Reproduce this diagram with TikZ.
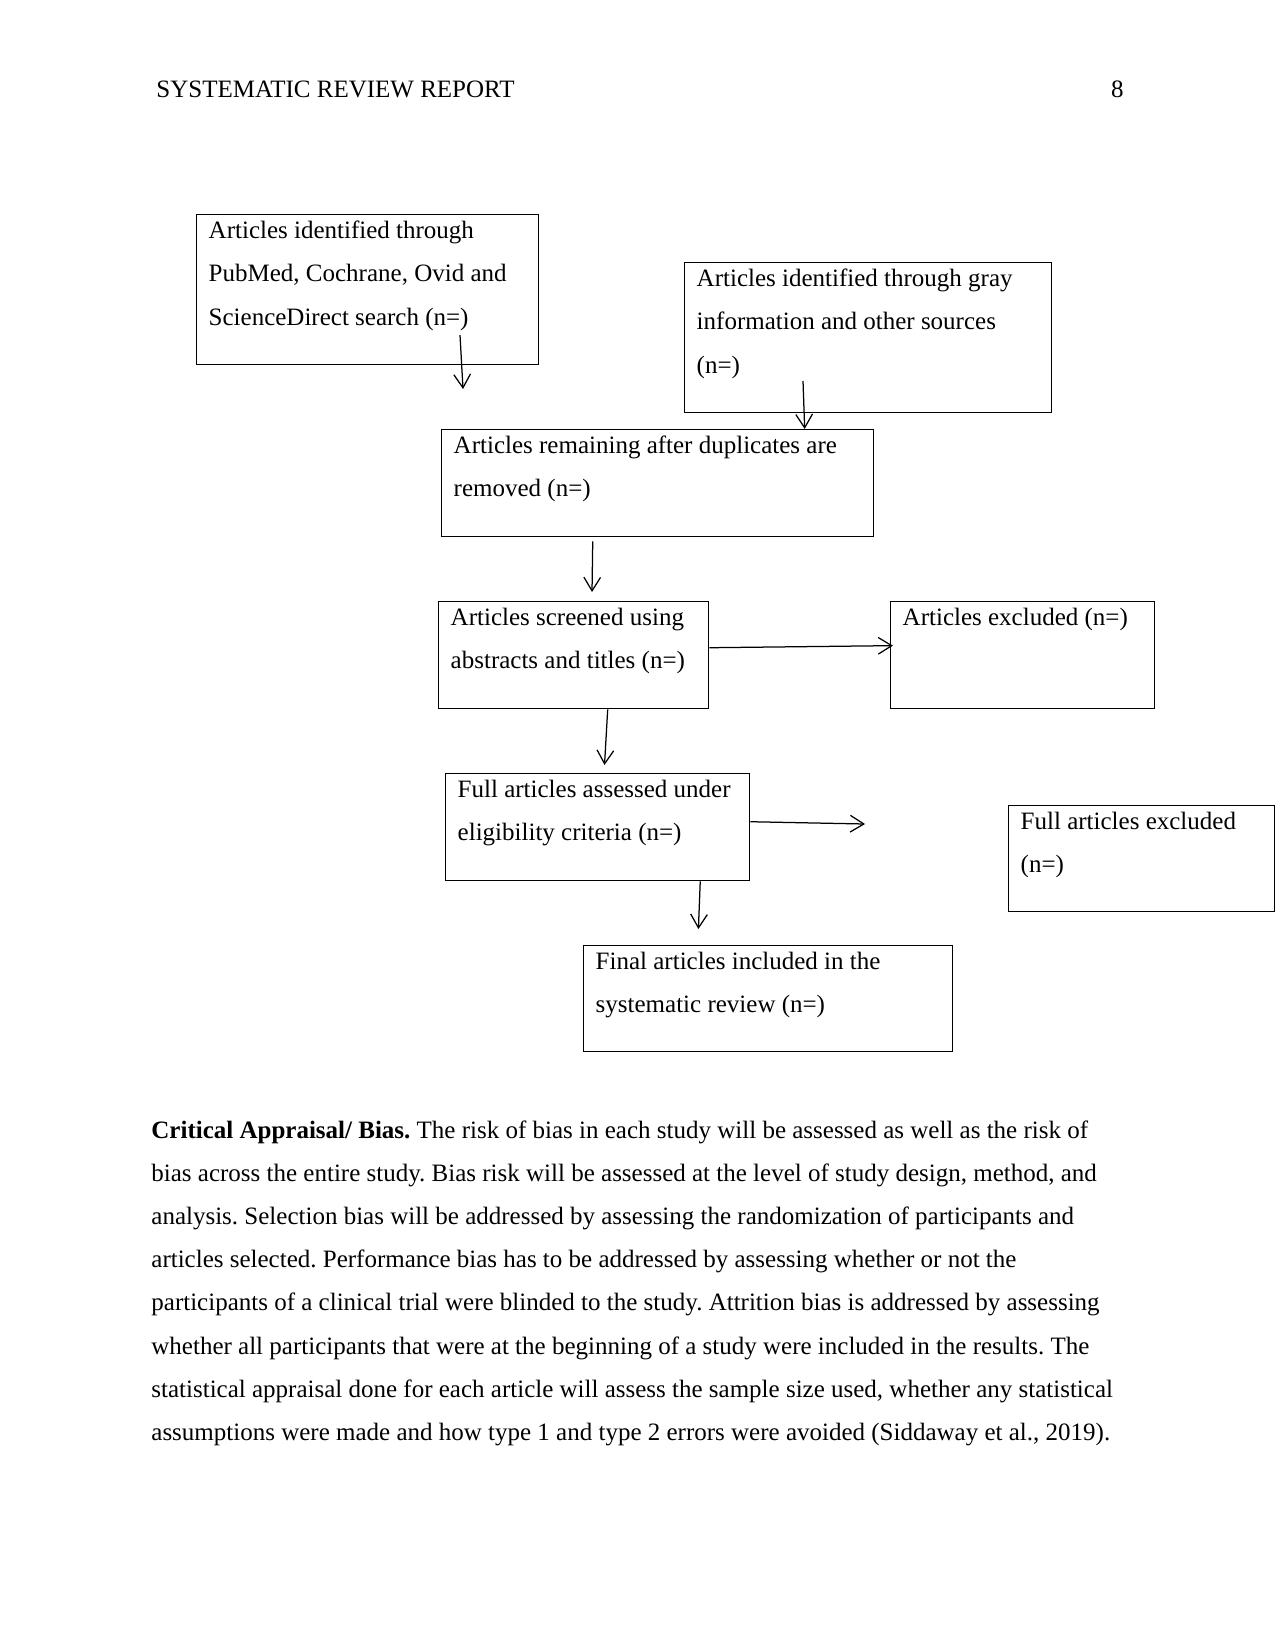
\documentclass[tikz,border=0pt]{standalone}
\usepackage{fontspec}
\setmainfont{Liberation Serif}
\frenchspacing
\usepackage{tikz}
\usetikzlibrary{arrows.meta}
\newcommand{\reportfont}{\fontsize{12pt}{20.74pt}\selectfont}
\tikzset{
  flowbox/.style={draw=black,line width=0.7pt,anchor=north west,align=left,
              inner xsep=5.76pt,inner ysep=0pt,text height=11.52pt,
              font=\reportfont,execute at begin node={\spaceskip=\fontdimen2\font\relax}},
  flow/.style={-{Straight Barb[length=6.5pt,width=8pt]},line width=0.6pt},
  bodytext/.style={font=\reportfont,inner sep=0pt,
              execute at begin node={\spaceskip=\fontdimen2\font\relax}},
  headtext/.style={font=\fontsize{12pt}{14pt}\selectfont,inner sep=0pt}
}
\begin{document}
\begin{tikzpicture}[x=0.48pt,y=-0.48pt]
  \useasboundingbox (0,0) rectangle (1275,1650);
  \node[headtext,anchor=base west] (head) at (156,98) {SYSTEMATIC REVIEW REPORT};
  \node[headtext,anchor=base east] (page) at (1124,98) {8};
  \node[flowbox,text width=152.64pt,text depth=60.48pt] (search) at (196,214)
    {Articles identified through\\PubMed, Cochrane, Ovid and\\ScienceDirect search (n=)};
  \node[flowbox,text width=164.64pt,text depth=60.48pt] (gray) at (684,262)
    {Articles identified through gray\\information and other sources\\(n=)};
  \node[flowbox,text width=195.84pt,text depth=39.84pt] (dedup) at (441,429)
    {Articles remaining after duplicates are\\removed (n=)};
  \node[flowbox,text width=118.08pt,text depth=39.84pt] (screen) at (438,601)
    {Articles screened using\\abstracts and titles (n=)};
  \node[flowbox,text width=115.2pt,text depth=39.84pt] (excl) at (890,601)
    {Articles excluded (n=)};
  \node[flowbox,text width=134.4pt,text depth=39.84pt] (elig) at (445,773)
    {Full articles assessed under\\eligibility criteria (n=)};
  \node[flowbox,text width=116.16pt,text depth=39.36pt] (fullexcl) at (1008,805)
    {Full articles excluded\\(n=)};
  \node[flowbox,text width=165.6pt,text depth=39.36pt] (final) at (583,945)
    {Final articles included in the\\systematic review (n=)};
  \coordinate (s1) at (460,335);
  \coordinate (e1) at (463,389);
  \coordinate (s2) at (803,381);
  \coordinate (e3) at (592,592);
  \coordinate (e5) at (604.5,765);
  \coordinate (e6) at (865,824);
  \coordinate (e7) at (698.4,929);
  \draw[flow] (s1) -- (e1);
  \draw[flow] (s2) -- ([xshift=0.8pt]dedup.north -| s2);
  \draw[flow] ([xshift=-31.2pt,yshift=-1.9pt]dedup.south) -- (e3);
  \draw[flow] ([yshift=3.6pt]screen.east) -- ([yshift=4.6pt,xshift=1.4pt]excl.west);
  \draw[flow] ([xshift=16.3pt]screen.south) -- (e5);
  \draw[flow] ([yshift=2.64pt]elig.east) -- (e6);
  \draw[flow] ([xshift=49.2pt]elig.south) -- (e7);
  \node[bodytext,anchor=base west,text width=480pt,align=left] (para) at (151,1138)
    {\textbf{Critical Appraisal/ Bias.} The risk of bias in each study will be assessed as well as the risk of\\
     bias across the entire study. Bias risk will be assessed at the level of study design, method, and\\
     analysis. Selection bias will be addressed by assessing the randomization of participants and\\
     articles selected. Performance bias has to be addressed by assessing whether or not the\\
     participants of a clinical trial were blinded to the study. Attrition bias is addressed by assessing\\
     whether all participants that were at the beginning of a study were included in the results. The\\
     statistical appraisal done for each article will assess the sample size used, whether any statistical\\
     assumptions were made and how type 1 and type 2 errors were avoided (Siddaway et al., 2019).};
\end{tikzpicture}
\end{document}
